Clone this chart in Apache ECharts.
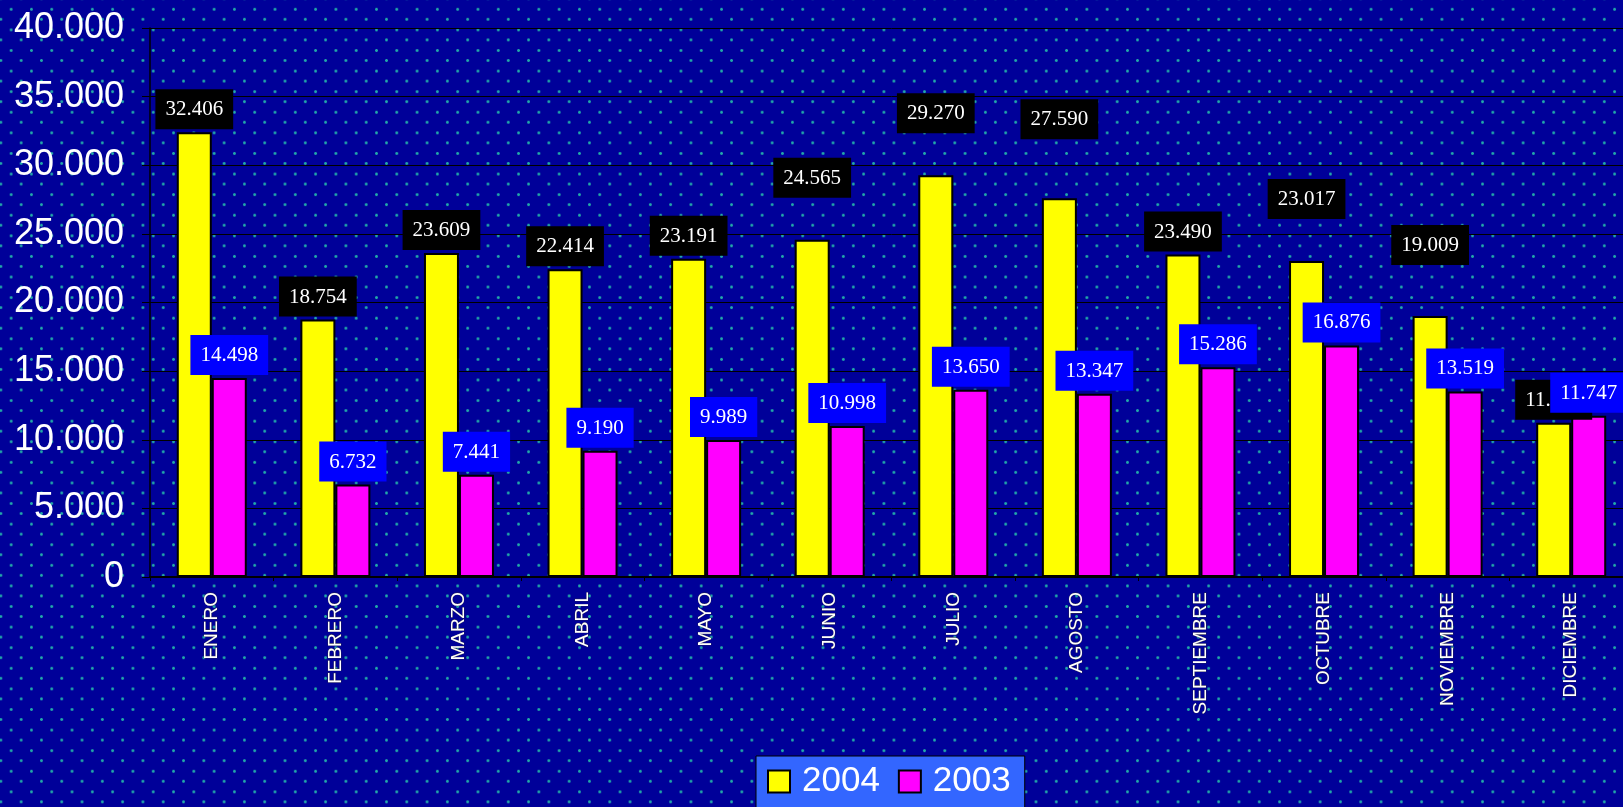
<!DOCTYPE html>
<html>
<head>
<meta charset="utf-8">
<script src="https://cdn.jsdelivr.net/npm/echarts@6/dist/echarts.min.js"></script>
<style>
  html, body {
    margin: 0;
    padding: 0;
    overflow: hidden;
    background: #000099;
  }
  /* the plot runs a little past the right edge of the window, as in the original */
  #chart {
    width: 1633px;
    height: 807px;
    background-color: #000099;
    background-image:
      radial-gradient(circle, #22a8a8 0, #22a8a8 1.1px, transparent 1.7px),
      radial-gradient(circle, #22a8a8 0, #22a8a8 1.1px, transparent 1.7px);
    background-size: 20.3px 20.6px;
    background-position: 1px -1px, 11px 9px;
  }
</style>
</head>
<body>
<div id="chart"></div>
<script>
// meses
const months = ['ENERO', 'FEBRERO', 'MARZO', 'ABRIL', 'MAYO', 'JUNIO', 'JULIO',
  'AGOSTO', 'SEPTIEMBRE', 'OCTUBRE', 'NOVIEMBRE', 'DICIEMBRE']

// valores por año
const values2004 = [32406, 18754, 23609, 22414, 23191, 24565, 29270, 27590, 23490, 23017, 19009, 11245]
const values2003 = [14498, 6732, 7441, 9190, 9989, 10998, 13650, 13347, 15286, 16876, 13519, 11747]

// cuanto se levanta cada etiqueta de 2004 sobre su barra (px)
const labelLift2004 = [0, 0, 0, 0, 0, 39, 39, 56, 0, 39, 48, 0]

const yTicks = { min: 0, max: 40000, step: 5000 }

// 32406 -> "32.406"
function fmt(v) {
  return String(Math.round(v)).replace(/\B(?=(\d{3})+(?!\d))/g, '.')
}

const boxLabel = {
  show: true,
  position: 'top',
  distance: 3,
  color: '#fff',
  fontFamily: '"Liberation Serif", "Times New Roman", serif',
  fontSize: 21,
  lineHeight: 21,
  padding: [10, 10, 9, 10],
  formatter: p => fmt(p.value)
}

const chart = echarts.init(document.getElementById('chart'))
chart.setOption({
  animation: false,
  backgroundColor: 'transparent',
  grid: {
    left: 150,
    right: 0,
    top: 28,
    bottom: 230
  },
  legend: {
    data: ['2004', '2003'],
    left: 756,
    top: 756,
    backgroundColor: '#3366ff',
    borderColor: '#000',
    borderWidth: 1,
    padding: [8, 14, 20, 11],
    itemWidth: 22,
    itemHeight: 22,
    itemGap: 18,
    icon: 'rect',
    itemStyle: { borderColor: '#000', borderWidth: 2 },
    textStyle: {
      color: '#fff',
      fontSize: 35,
      fontFamily: '"Liberation Sans", Arial, sans-serif',
      padding: [0, 0, 0, 7]
    }
  },
  xAxis: {
    type: 'category',
    data: months,
    axisLine: { lineStyle: { color: '#000', width: 2 } },
    axisTick: { show: true, length: 4, lineStyle: { color: '#000' } },
    axisLabel: {
      rotate: 90,
      margin: 15,
      color: '#fff',
      fontSize: 19,
      fontFamily: '"Liberation Sans", Arial, sans-serif',
      textBorderColor: '#333',
      textBorderWidth: 0.6
    }
  },
  yAxis: {
    type: 'value',
    min: yTicks.min,
    max: yTicks.max,
    interval: yTicks.step,
    axisLine: { show: true, lineStyle: { color: '#000', width: 1.5 } },
    axisTick: { show: true, length: 8, lineStyle: { color: '#000' } },
    splitLine: { lineStyle: { color: '#000', width: 1 } },
    axisLabel: {
      margin: 26,
      color: '#fff',
      fontSize: 36,
      fontFamily: '"Liberation Sans", Arial, sans-serif',
      formatter: v => fmt(v)
    }
  },
  series: [
    {
      name: '2004',
      type: 'bar',
      barWidth: 35,
      barGap: '0%',
      itemStyle: { color: '#ffff00', borderColor: '#000', borderWidth: 2 },
      label: Object.assign({}, boxLabel, { backgroundColor: '#000' }),
      data: values2004.map((v, i) => ({
        value: v,
        label: { offset: [0, -labelLift2004[i]] }
      }))
    },
    {
      name: '2003',
      type: 'bar',
      barWidth: 35,
      itemStyle: { color: '#ff00ff', borderColor: '#000', borderWidth: 2 },
      label: Object.assign({}, boxLabel, { backgroundColor: '#0000ff' }),
      data: values2003
    }
  ]
})
</script>
</body>
</html>
